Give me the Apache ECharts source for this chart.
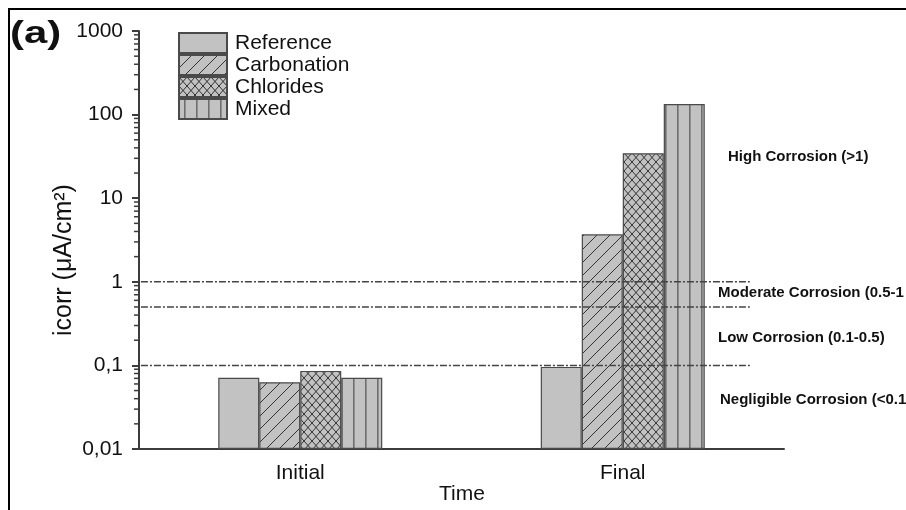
<!DOCTYPE html>
<html><head><meta charset="utf-8">
<script src="https://cdn.jsdelivr.net/npm/echarts@6/dist/echarts.min.js"></script>
<style>html,body{margin:0;padding:0;background:#fff}#c{width:906px;height:510px}</style>
</head><body><div id="c"></div>
<script>
// ---- data ----
const categories = ['Initial', 'Final'];
const seriesNames = ['Reference', 'Carbonation', 'Chlorides', 'Mixed'];
const referenceValues = [0.071, 0.096];
const carbonationValues = [0.063, 3.7];
const chloridesValues = [0.086, 34.5];
const mixedValues = [0.071, 134];
const thresholdValues = [1, 0.5, 0.1];
const yMin = 0.01, yMax = 1000;
const minorTickValues = [
  0.02, 0.03, 0.04, 0.05, 0.06, 0.07, 0.08, 0.09,
  0.2, 0.3, 0.4, 0.5, 0.6, 0.7, 0.8, 0.9,
  2, 3, 4, 5, 6, 7, 8, 9,
  20, 30, 40, 50, 60, 70, 80, 90,
  200, 300, 400, 500, 600, 700, 800, 900
];
const annotationTexts = ['High Corrosion (>1)', 'Moderate Corrosion (0.5-1', 'Low Corrosion (0.1-0.5)', 'Negligible Corrosion (<0.1'];

// ---- styles ----
const FONT = '"Liberation Sans", Arial, sans-serif';
const FILL = '#c2c2c2';
function makePattern(type) {
  const c = document.createElement('canvas');
  let w = 12, h = 12;
  if (type === 'hatch') { w = 13; h = 13; }
  if (type === 'cross') { w = 8; h = 9; }
  c.width = w; c.height = h;
  const g = c.getContext('2d');
  g.fillStyle = FILL; g.fillRect(0, 0, w, h);
  g.strokeStyle = '#333'; g.lineWidth = 1;
  g.beginPath();
  if (type === 'hatch' || type === 'cross') {
    for (const k of [-1, 0, 1]) { g.moveTo(k * w, h); g.lineTo(k * w + w, 0); }
  }
  if (type === 'cross') {
    for (const k of [-1, 0, 1]) { g.moveTo(k * w, 0); g.lineTo(k * w + w, h); }
  }
  g.stroke();
  if (type === 'vert') { g.fillStyle = '#6e6e6e'; g.fillRect(5, 0, 1.6, h); }
  return { image: c, repeat: 'repeat' };
}
const patterns = [FILL, makePattern('hatch'), makePattern('cross'), makePattern('vert')];
const allValues = [referenceValues, carbonationValues, chloridesValues, mixedValues];

const chart = echarts.init(document.getElementById('c'), null, { renderer: 'canvas' });
const axisColor = '#3c3c3c';

const barSeries = seriesNames.map((name, i) => ({
  type: 'bar', name, data: allValues[i], xAxisIndex: 0, yAxisIndex: 0,
  barWidth: 41, barGap: '0%',
  itemStyle: { color: patterns[i], borderColor: '#4a4a4a', borderWidth: 1.2 },
  z: 2
}));
const lineSeries = thresholdValues.map(t => ({
  type: 'line', xAxisIndex: 2, yAxisIndex: 0, symbol: 'none', silent: true,
  data: [[0.003, t], [0.947, t]],
  lineStyle: { color: '#444', width: 1.5, type: [7, 2, 2, 2] },
  z: 5
}));
const minorTickSeries = {
  type: 'custom', xAxisIndex: 2, yAxisIndex: 0, silent: true, clip: false,
  data: minorTickValues.map(v => [0, v]),
  renderItem: (params, api) => {
    const p = api.coord([api.value(0), api.value(1)]);
    return { type: 'line', shape: { x1: p[0] - 5, y1: p[1], x2: p[0], y2: p[1] },
      style: { stroke: axisColor, lineWidth: 1.5 } };
  },
  z: 3
};

chart.setOption({
  animation: false,
  backgroundColor: '#fff',
  grid: { left: 139, right: 122, top: 31, bottom: 61 },
  legend: {
    data: seriesNames, orient: 'vertical', left: 178, top: 32, padding: 0,
    itemWidth: 48, itemHeight: 20, itemGap: 0, icon: 'rect',
    textStyle: { fontFamily: FONT, fontSize: 21, color: '#111', lineHeight: 20, padding: [0, 0, 0, 3] }
  },
  xAxis: [
    { type: 'category', data: categories, position: 'bottom',
      axisLine: { onZero: false, lineStyle: { color: axisColor, width: 2 } },
      axisTick: { alignWithLabel: true, length: 8, lineStyle: { color: axisColor, width: 2 } },
      axisLabel: { fontFamily: FONT, fontSize: 21, color: '#111', margin: 14 } },
    { type: 'category', data: categories, position: 'bottom',
      axisLine: { show: false, onZero: false }, axisLabel: { show: false },
      axisTick: { alignWithLabel: false, length: 3, interval: 0, lineStyle: { color: axisColor, width: 2 } } },
    { type: 'value', min: 0, max: 1, position: 'top', show: false }
  ],
  yAxis: [
    { type: 'log', logBase: 10, min: yMin, max: yMax, startValue: yMin, splitNumber: 5, position: 'left',
      axisLine: { show: true, onZero: false, lineStyle: { color: axisColor, width: 2 } },
      axisTick: { show: true, length: 7, lineStyle: { color: axisColor, width: 2 } },
      splitLine: { show: false },
      axisLabel: { fontFamily: FONT, fontSize: 21, color: '#111', margin: 16,
        formatter: v => String(v).replace('.', ',') } }
  ],
  graphic: [
    { type: 'polyline', shape: { points: [[9, 510], [9, 9], [906, 9]] }, style: { stroke: '#000', lineWidth: 2, fill: null }, z: 10 },
    { type: 'text', x: 10, y: 34, scaleX: 1.35, style: { text: '(a)', font: 'bold 31px ' + FONT, fill: '#111', verticalAlign: 'middle' } },
    { type: 'text', x: 64, y: 260, rotation: Math.PI / 2, style: { text: 'icorr (μA/cm²)', font: '25px ' + FONT, fill: '#111', align: 'center', verticalAlign: 'middle' } },
    { type: 'text', x: 462, y: 494, style: { text: 'Time', font: '21px ' + FONT, fill: '#111', align: 'center', verticalAlign: 'middle' } },
    { type: 'text', x: 728, y: 157, style: { text: annotationTexts[0], font: 'bold 15px ' + FONT, fill: '#111', verticalAlign: 'middle' } },
    { type: 'text', x: 718, y: 293, style: { text: annotationTexts[1], font: 'bold 15px ' + FONT, fill: '#111', verticalAlign: 'middle' } },
    { type: 'text', x: 718, y: 338, style: { text: annotationTexts[2], font: 'bold 15px ' + FONT, fill: '#111', verticalAlign: 'middle' } },
    { type: 'text', x: 720, y: 400, style: { text: annotationTexts[3], font: 'bold 15px ' + FONT, fill: '#111', verticalAlign: 'middle' } }
  ],
  series: barSeries.concat(lineSeries, [minorTickSeries])
});
</script>
</body></html>
